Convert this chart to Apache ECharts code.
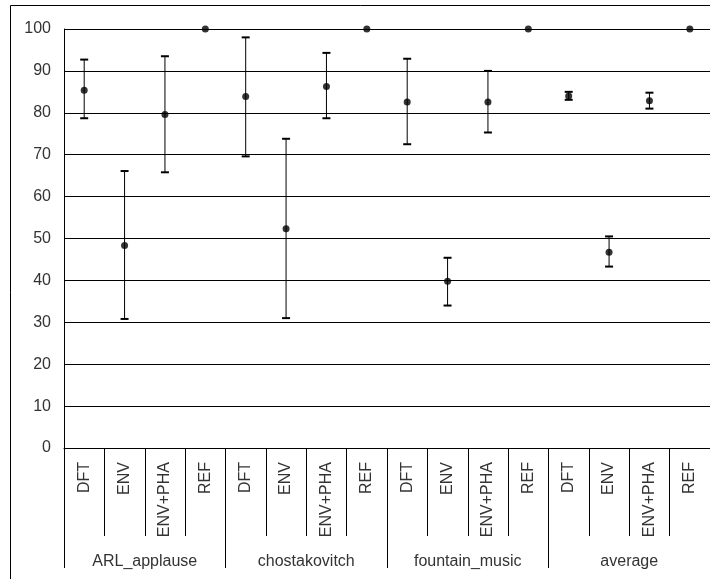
<!DOCTYPE html>
<html>
<head>
<meta charset="utf-8">
<title>error bars</title>
<script src="https://cdn.jsdelivr.net/npm/echarts@6/dist/echarts.min.js"></script>
<style>
body{margin:0;background:#fff;}
#main{width:710px;height:579px;}
</style>
</head>
<body>
<div id="main"></div>
<script>
// chart data
var methods = ['DFT', 'ENV', 'ENV+PHA', 'REF'];
var groups = ['ARL_applause', 'chostakovitch', 'fountain_music', 'average'];
var means = [85.4, 48.3, 79.6, 100, 83.9, 52.3, 86.3, 100, 82.6, 39.8, 82.6, 100, 84.0, 46.7, 82.9, 100];
var lows  = [78.7, 30.8, 65.8, null, 69.6, 31.0, 78.7, null, 72.5, 34.0, 75.3, null, 83.1, 43.3, 81.0, null];
var highs = [92.7, 66.1, 93.5, null, 98.0, 73.8, 94.3, null, 92.9, 45.4, 90.0, null, 85.0, 50.5, 84.8, null];
var yTicks = {min: 0, max: 100, step: 10};

var cats = [];
groups.forEach(function (g) {
    methods.forEach(function (m) { cats.push(m); });
});

var barData = [];
for (var i = 0; i < means.length; i++) {
    if (lows[i] != null) barData.push([i, lows[i], highs[i]]);
}

var txt = {color: '#333', fontSize: 16, fontFamily: 'Liberation Sans, Arial, sans-serif'};

var myChart = echarts.init(document.getElementById('main'));
var option = {
    backgroundColor: '#fff',
    animation: false,
    graphic: [{
        type: 'rect',
        shape: {x: 10.5, y: 5.5, width: 760, height: 640},
        style: {fill: 'none', stroke: '#000', lineWidth: 1}
    }],
    grid: {left: 64, right: 0, top: 29, bottom: 131},
    xAxis: [{
        type: 'category',
        data: cats,
        boundaryGap: true,
        axisLine: {show: true, lineStyle: {color: '#000', width: 1}},
        axisTick: {show: true, interval: 0, length: 88, lineStyle: {color: '#000'}},
        axisLabel: Object.assign({interval: 0, rotate: 90, margin: 14}, txt),
        splitLine: {show: false}
    }, {
        type: 'category',
        data: groups,
        position: 'bottom',
        axisLine: {show: false},
        axisTick: {show: true, length: 120, lineStyle: {color: '#000'}},
        axisLabel: Object.assign({margin: 106}, txt),
        splitLine: {show: false}
    }],
    yAxis: {
        type: 'value',
        min: yTicks.min,
        max: yTicks.max,
        interval: yTicks.step,
        axisLine: {show: true, lineStyle: {color: '#000'}},
        axisTick: {show: false},
        axisLabel: Object.assign({margin: 13}, txt),
        splitLine: {show: true, lineStyle: {color: '#000', width: 1}}
    },
    series: [{
        type: 'custom',
        xAxisIndex: 0,
        data: barData,
        encode: {x: 0, y: [1, 2]},
        z: 3,
        renderItem: function (params, api) {
            var x = api.value(0);
            var lo = api.coord([x, api.value(1)]);
            var hi = api.coord([x, api.value(2)]);
            var hw = 4;
            return {
                type: 'group',
                children: [
                    {type: 'line', shape: {x1: lo[0], y1: lo[1], x2: hi[0], y2: hi[1]}, style: {stroke: '#000', lineWidth: 1}},
                    {type: 'line', shape: {x1: lo[0] - hw, y1: lo[1], x2: lo[0] + hw, y2: lo[1]}, style: {stroke: '#000', lineWidth: 2}},
                    {type: 'line', shape: {x1: hi[0] - hw, y1: hi[1], x2: hi[0] + hw, y2: hi[1]}, style: {stroke: '#000', lineWidth: 2}}
                ]
            };
        }
    }, {
        type: 'scatter',
        xAxisIndex: 0,
        data: means,
        symbol: 'circle',
        symbolSize: 7,
        itemStyle: {color: '#000'},
        z: 4
    }]
};
myChart.setOption(option);
</script>
</body>
</html>
